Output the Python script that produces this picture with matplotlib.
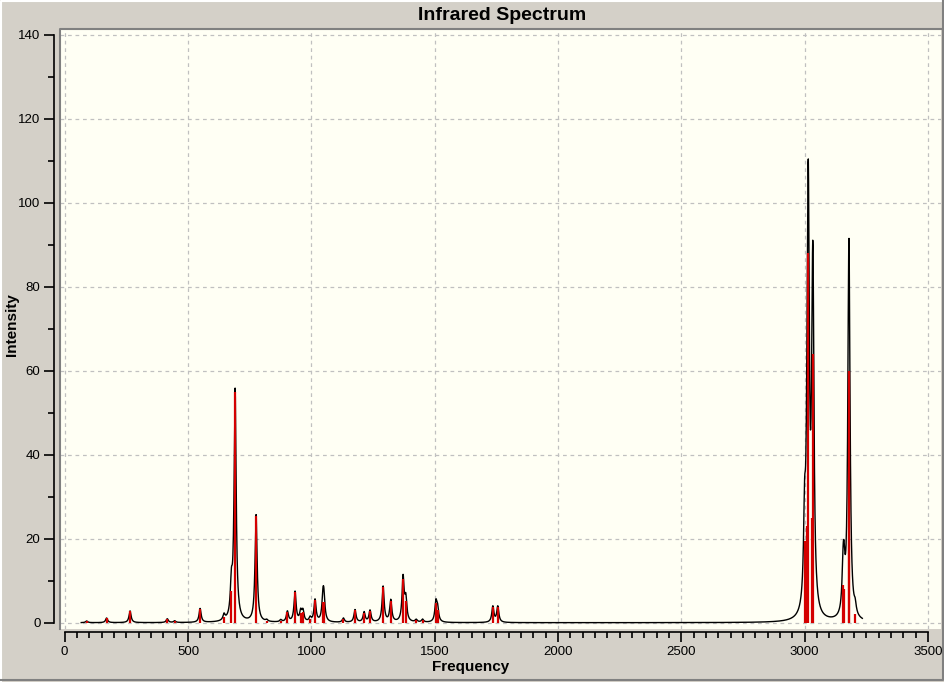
import numpy as np
import matplotlib
matplotlib.use("Agg")
import matplotlib.pyplot as plt
from matplotlib.lines import Line2D

plt.rcParams["font.family"] = ["Liberation Sans", "DejaVu Sans"]

# stick spectrum (cm^-1, intensity)
freqs = [89, 170, 265, 416, 446, 549, 646, 676, 691, 776, 819, 876, 903, 934,
         957, 966, 995, 1015, 1047, 1051, 1130, 1177, 1214, 1238, 1291, 1322,
         1372, 1383, 1425, 1451, 1505, 1512, 1736, 1756, 3000, 3011, 3015,
         3031, 3034, 3156, 3160, 3179, 3181, 3205]
intens = [0.4, 1.1, 2.8, 0.9, 0.4, 3.3, 1.4, 7.5, 55.0, 25.5, 0.4, 0.5, 2.5, 7.2,
          2.4, 2.5, 1.0, 5.3, 5.0, 5.0, 1.0, 3.0, 2.4, 2.8, 8.5, 5.2,
          10.5, 5.2, 0.6, 0.7, 4.6, 3.0, 3.8, 3.8, 19.5, 23.0, 88.0,
          25.0, 64.0, 9.0, 8.0, 60.0, 34.0, 2.0]
hwhm = 5.0
env_start, env_end = 67, 3234

xticks = [0, 500, 1000, 1500, 2000, 2500, 3000, 3500]
yticks = [0, 20, 40, 60, 80, 100, 120, 140]

# lorentzian envelope built from the sticks
f = np.array(freqs, dtype=float)
a = np.array(intens)
grid = np.arange(env_start, env_end + 1, 1.0)
env = (a[None, :] * hwhm**2 / ((grid[:, None] - f[None, :])**2 + hwhm**2)).sum(axis=1)

W, H = 944, 682
fig = plt.figure(figsize=(W / 100, H / 100), dpi=100, facecolor="#d4d0c8")
ax = fig.add_axes([60 / W, 1 - 629 / H, (941 - 60) / W, (629 - 29) / H])
ax.set_facecolor("#fffff4")

ax.vlines(freqs, 0, intens, color="#d40000", lw=1.6, zorder=3)
ax.plot(grid, env, color="black", lw=1.0, zorder=2)

ax.set_xlim(-19, 3553)
ax.set_ylim(-1.5, 141.4)
ax.set_xticks(xticks)
ax.set_yticks(yticks)
ax.set_xticks(np.arange(0, 3501, 50), minor=True)
ax.set_yticks(np.arange(0, 141, 10), minor=True)
ax.grid(True, which="major", color="#c0c0c0", ls=(0, (3, 3)), lw=0.9, zorder=0)

for s in ["top", "right"]:
    ax.spines[s].set_visible(False)
ax.spines["left"].set_position(("outward", 4))
ax.spines["bottom"].set_position(("outward", 2))
ax.spines["left"].set_bounds(0, 140)
ax.spines["bottom"].set_bounds(0, 3500)
ax.spines["left"].set_linewidth(1.2)
ax.spines["bottom"].set_linewidth(1.2)
ax.tick_params(which="major", length=7, width=1.2, labelsize=9.5, pad=3)
ax.tick_params(which="minor", length=4, width=1.2)

# sunken frame of the plot area
ax.add_line(Line2D([0, 0, 1], [0, 1, 1], transform=ax.transAxes, color="#808080",
                   lw=1.5, clip_on=False, zorder=5))

ax.set_xlabel("Frequency", fontsize=11, fontweight="bold")
ax.set_ylabel("Intensity", fontsize=11, fontweight="bold")
ax.xaxis.set_label_coords(0.5 - 30 / 881, -31 / 600)
ax.yaxis.set_label_coords(-41 / 881, 0.5 + 4 / 600)
fig.text(0.5 + 30 / W, 1 - 15 / H, "Infrared Spectrum", ha="center", va="center",
         fontsize=14, fontweight="bold")

# window border
fig.add_artist(Line2D([1 / W, 1 / W, 1 - 1 / W], [1 / H, 1 - 1 / H, 1 - 1 / H],
                      transform=fig.transFigure, color="white", lw=1.5))
fig.add_artist(Line2D([1 / W, 1 - 1 / W, 1 - 1 / W], [2 / H, 2 / H, 1 - 1 / H],
                      transform=fig.transFigure, color="#808080", lw=1.5))

fig.savefig("out.png", dpi=100, facecolor=fig.get_facecolor())
